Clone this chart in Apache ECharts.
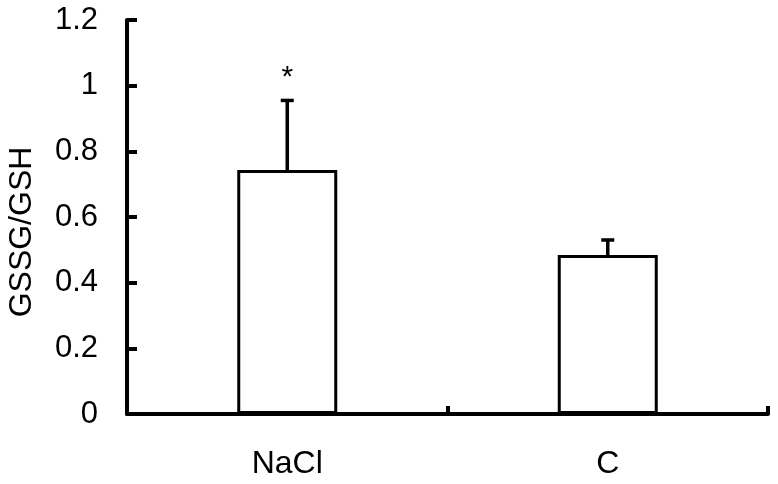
<!DOCTYPE html>
<html><head><meta charset="utf-8">
<script src="https://cdn.jsdelivr.net/npm/echarts@6/dist/echarts.min.js"></script>
<style>html,body{margin:0;padding:0;background:#fff}#c{width:778px;height:484px}</style>
</head><body><div id="c"></div>
<script>
var categories = ["NaCl", "C"];
var means = [0.743, 0.484];
var errors = [0.212, 0.046];
var marks = ["*", ""];
var yTicks = [0, 0.2, 0.4, 0.6, 0.8, 1, 1.2];

var FONT = "Liberation Sans";
var chart = echarts.init(document.getElementById('c'));
chart.setOption({
  animation: false,
  backgroundColor: '#fff',
  grid: {left: 127, right: 10, top: 20, bottom: 70, containLabel: false, outerBoundsMode: 'none'},
  xAxis: {
    type: 'category', data: categories, boundaryGap: true,
    axisLine: {lineStyle: {color: '#000', width: 4}},
    axisTick: {show: true, inside: true, length: 8, lineStyle: {color: '#000', width: 4}},
    axisLabel: {color: '#000', fontFamily: FONT, fontSize: 32, margin: 34}
  },
  yAxis: {
    type: 'value', min: 0, max: 1.2, interval: 0.2,
    name: 'GSSG/GSH', nameLocation: 'middle', nameGap: 89, nameRotate: 90,
    nameTextStyle: {color: '#000', fontFamily: FONT, fontSize: 32, padding: [0, 30, 0, 0]},
    splitLine: {show: false},
    axisLine: {show: true, lineStyle: {color: '#000', width: 4}},
    axisTick: {show: true, inside: true, length: 10, lineStyle: {color: '#000', width: 4}},
    axisLabel: {color: '#000', fontFamily: FONT, fontSize: 31, margin: 29,
      formatter: function(v){ var i = yTicks.indexOf(+v.toFixed(1)); return i >= 0 ? String(yTicks[i]) : ''; }}
  },
  series: [
    {
      type: 'bar', data: means, barWidth: 100,
      itemStyle: {color: '#fff', borderColor: '#000', borderWidth: 3}
    },
    {
      type: 'custom',
      data: means.map(function(m, i){ return [i, m, errors[i]]; }),
      renderItem: function(params, api){
        var i = api.value(0), m = api.value(1), e = api.value(2);
        var p0 = api.coord([i, m]);
        var p1 = api.coord([i, m + e]);
        var children = [
          {type: 'line', shape: {x1: p0[0], y1: p0[1], x2: p1[0], y2: p1[1]}, style: {stroke: '#000', lineWidth: 3.5}},
          {type: 'line', shape: {x1: p1[0] - 6.5, y1: p1[1], x2: p1[0] + 6.5, y2: p1[1]}, style: {stroke: '#000', lineWidth: 3.5}}
        ];
        var mk = marks[params.dataIndex];
        if (mk) {
          children.push({type: 'text', x: p1[0], y: p1[1] - 23,
            style: {text: mk, fill: '#000', font: '30px "' + FONT + '"', align: 'center', verticalAlign: 'middle'}});
        }
        return {type: 'group', children: children};
      },
      z: 5
    }
  ]
});
</script></body></html>
